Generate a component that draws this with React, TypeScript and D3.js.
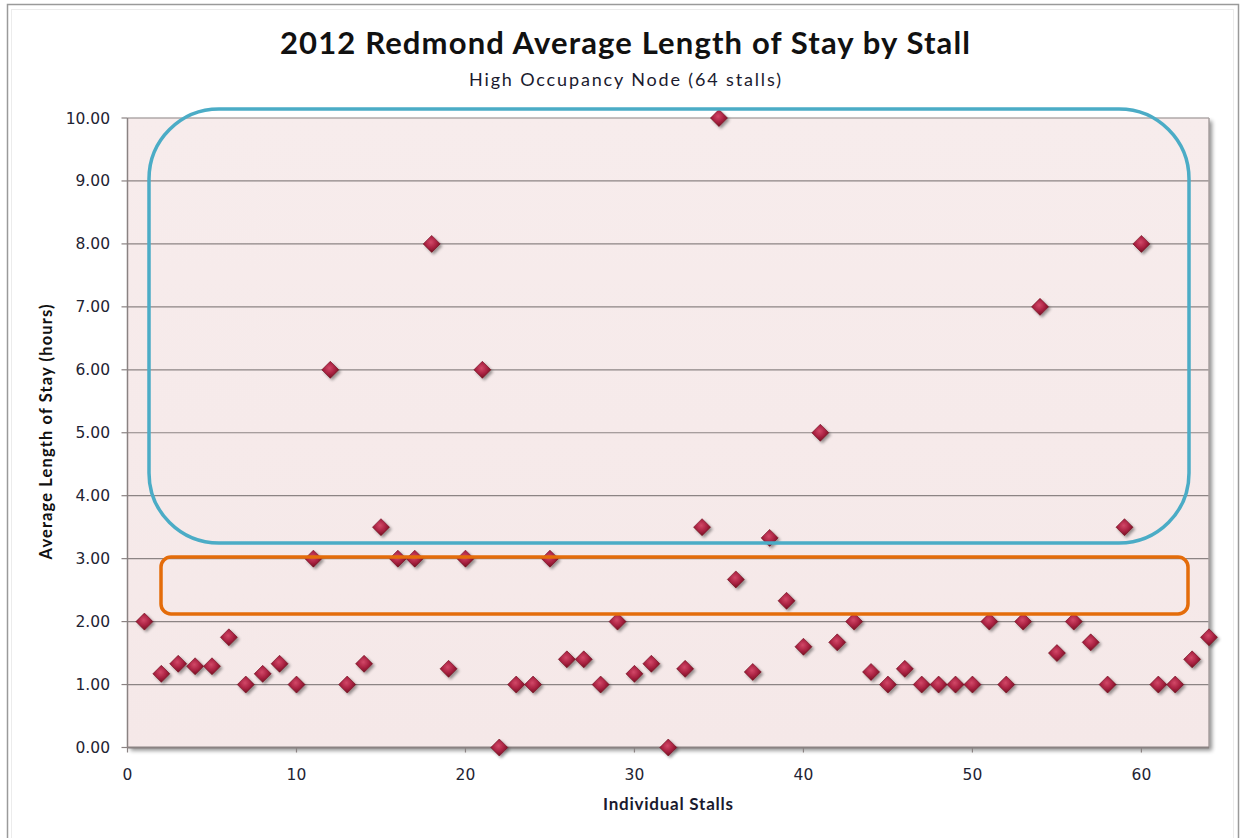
import React from "react";
import * as d3 from "d3";

const stalls: number[] = Array.from({ length: 64 }, (_, i) => i + 1);
const avgStay: number[] = [
  2.0, 1.17, 1.33, 1.29, 1.29, 1.75, 1.0, 1.17, 1.33, 1.0,
  3.0, 6.0, 1.0, 1.33, 3.5, 3.0, 3.0, 8.0, 1.25, 3.0,
  6.0, 0.0, 1.0, 1.0, 3.0, 1.4, 1.4, 1.0, 2.0, 1.17,
  1.33, 0.0, 1.25, 3.5, 10.0, 2.67, 1.2, 3.33, 2.33, 1.6,
  5.0, 1.67, 2.0, 1.2, 1.0, 1.25, 1.0, 1.0, 1.0, 1.0,
  2.0, 1.0, 2.0, 7.0, 1.5, 2.0, 1.67, 1.0, 3.5, 8.0,
  1.0, 1.0, 1.4, 1.75,
];
const yTicks: number[] = [0, 1, 2, 3, 4, 5, 6, 7, 8, 9, 10];
const xTicks: number[] = [0, 10, 20, 30, 40, 50, 60];

const titleText = "2012 Redmond Average Length of Stay by Stall";
const subtitleText = "High Occupancy Node (64 stalls)";
const yTitle = "Average Length of Stay (hours)";
const xTitle = "Individual Stalls";

const W = 1241;
const H = 838;
const left = 127.5;
const right = 1209;
const top = 118;
const bottom = 747.5;

export default function App() {
  const x = d3.scaleLinear().domain([0, 64]).range([left, right]);
  const y = d3.scaleLinear().domain([0, 10]).range([bottom, top]);
  const diamondPath = `M0,-8.5L8.5,0L0,8.5L-8.5,0Z`;

  return (
    <svg
      width={W}
      height={H}
      style={{ position: "absolute", left: 0, top: 0, display: "block", background: "#fff" }}
      xmlns="http://www.w3.org/2000/svg"
    >
      <defs>
        <linearGradient id="plotbg" x1="0" y1="0" x2="0" y2="1">
          <stop offset="0" stopColor="#f7ecec" />
          <stop offset="1" stopColor="#f5e8e8" />
        </linearGradient>
        <radialGradient id="mk" cx="0.45" cy="0.4" r="0.6">
          <stop offset="0" stopColor="#d24868" />
          <stop offset="0.55" stopColor="#aa2242" />
          <stop offset="1" stopColor="#741020" />
        </radialGradient>
        <filter id="shadow" x="-50%" y="-50%" width="200%" height="200%">
          <feGaussianBlur in="SourceAlpha" stdDeviation="1.8" />
          <feOffset dx="1.5" dy="2" result="b" />
          <feComponentTransfer>
            <feFuncA type="linear" slope="0.4" />
          </feComponentTransfer>
          <feMerge>
            <feMergeNode />
            <feMergeNode in="SourceGraphic" />
          </feMerge>
        </filter>
        <filter id="plotshadow" x="-5%" y="-5%" width="110%" height="110%">
          <feGaussianBlur in="SourceAlpha" stdDeviation="2" />
          <feOffset dx="3" dy="3" result="b" />
          <feComponentTransfer>
            <feFuncA type="linear" slope="0.45" />
          </feComponentTransfer>
          <feMerge>
            <feMergeNode />
            <feMergeNode in="SourceGraphic" />
          </feMerge>
        </filter>
      </defs>

      {/* outer frame */}
      <rect x={7.5} y={4.5} width={1231} height={845} fill="#fff" stroke="#9a9a9a" strokeWidth={1.5} />
      <rect x={11.5} y={9.5} width={1222} height={840} fill="none" stroke="#ececec" strokeWidth={1} />

      {/* titles */}
      <text
        x={625}
        y={54}
        textAnchor="middle"
        fontFamily="Lato, 'Open Sans', sans-serif"
        fontWeight={700}
        fontSize={31}
        textLength={690}
        lengthAdjust="spacing"
        fill="#111"
      >
        {titleText}
      </text>
      <text
        x={625}
        y={86}
        textAnchor="middle"
        fontFamily="Lato, 'Open Sans', sans-serif"
        fontSize={18}
        textLength={312}
        lengthAdjust="spacing"
        fill="#1a1a2e"
      >
        {subtitleText}
      </text>

      {/* plot area */}
      <rect
        x={left}
        y={top}
        width={right - left}
        height={bottom - top}
        fill="url(#plotbg)"
        filter="url(#plotshadow)"
      />

      {/* gridlines */}
      {yTicks.map((t) => (
        <line key={"g" + t} x1={left} x2={right} y1={y(t)} y2={y(t)} stroke="#8c8484" strokeWidth={1.2} />
      ))}
      <line x1={right} x2={right} y1={top} y2={bottom} stroke="#a8a0a0" strokeWidth={1.5} />
      <line x1={left} x2={right} y1={bottom} y2={bottom} stroke="#8a8282" strokeWidth={2} />
      <line x1={left} x2={left} y1={top} y2={bottom} stroke="#8a8282" strokeWidth={1.5} />

      {/* y ticks and labels */}
      {yTicks.map((t) => (
        <g key={"y" + t}>
          <line x1={left - 6} x2={left} y1={y(t)} y2={y(t)} stroke="#8a8282" strokeWidth={1.2} />
          <text
            x={110}
            y={y(t) + 5.5}
            textAnchor="end"
            fontFamily="'DejaVu Sans', Verdana, sans-serif"
            fontSize={15.5}
            fill="#1e2333"
          >
            {t.toFixed(2)}
          </text>
        </g>
      ))}

      {/* x ticks and labels */}
      {xTicks.map((t) => (
        <g key={"x" + t}>
          <line x1={x(t)} x2={x(t)} y1={bottom} y2={bottom + 5} stroke="#8a8282" strokeWidth={1.2} />
          <text
            x={x(t)}
            y={780}
            textAnchor="middle"
            fontFamily="'DejaVu Sans', Verdana, sans-serif"
            fontSize={15.5}
            fill="#1e2333"
          >
            {t}
          </text>
        </g>
      ))}

      {/* axis titles */}
      <text
        transform={`translate(52,432) rotate(-90)`}
        textAnchor="middle"
        fontFamily="Lato, 'Open Sans', sans-serif"
        fontWeight={700}
        fontSize={16.5}
        textLength={255}
        lengthAdjust="spacing"
        fill="#111"
      >
        {yTitle}
      </text>
      <text
        x={668}
        y={810}
        textAnchor="middle"
        fontFamily="Lato, 'Open Sans', sans-serif"
        fontWeight={700}
        fontSize={17}
        textLength={130}
        lengthAdjust="spacing"
        fill="#1a1a2e"
      >
        {xTitle}
      </text>

      {/* markers */}
      {stalls.map((s, i) => (
        <path
          key={"m" + s}
          d={diamondPath}
          transform={`translate(${x(s)},${y(avgStay[i])})`}
          fill="url(#mk)"
          stroke="#6e0f1e"
          strokeWidth={0.6}
          filter="url(#shadow)"
        />
      ))}

      {/* annotation boxes */}
      <rect
        x={149}
        y={109}
        width={1189 - 149}
        height={543 - 109}
        rx={70}
        ry={70}
        fill="none"
        stroke="#4bacc6"
        strokeWidth={3.5}
      />
      <rect
        x={161}
        y={557}
        width={1188 - 161}
        height={614 - 557}
        rx={10}
        ry={10}
        fill="none"
        stroke="#e46c0a"
        strokeWidth={3.5}
      />
    </svg>
  );
}
